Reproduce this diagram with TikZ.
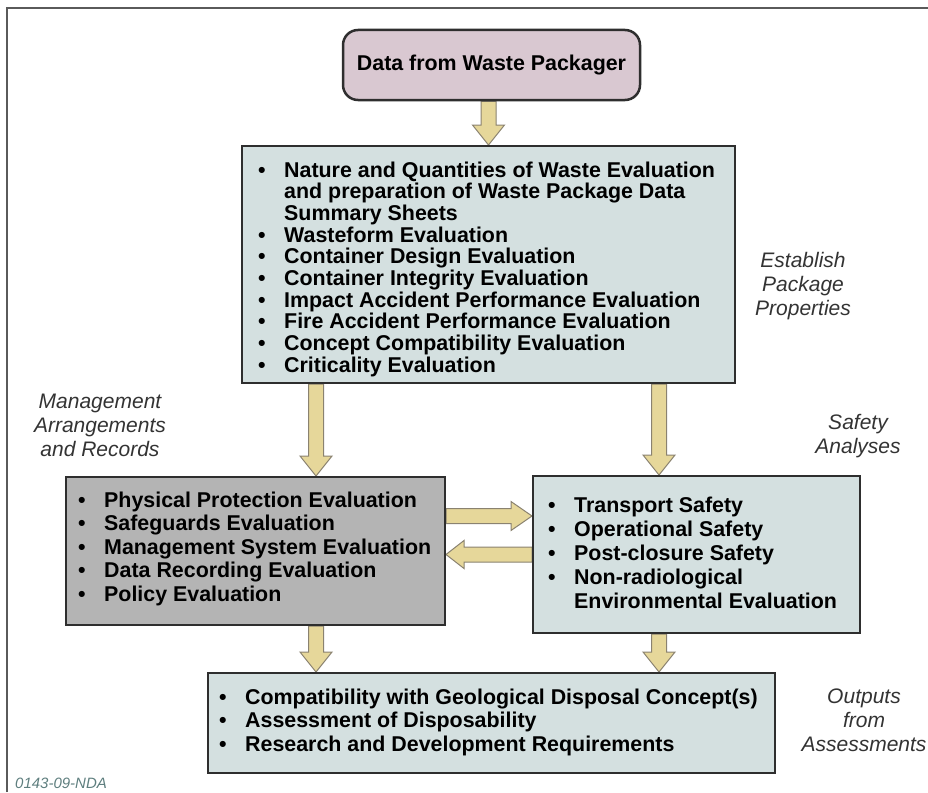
\documentclass[tikz,border=0pt]{standalone}
\usepackage{fontspec}
\setmainfont{Liberation Sans}
\usetikzlibrary{calc}

\definecolor{mauvefill}{HTML}{D9C8D1}
\definecolor{panefill}{HTML}{D4E0E0}
\definecolor{greyfill}{HTML}{B4B4B4}
\definecolor{arrowfill}{HTML}{E6D79A}
\definecolor{arrowedge}{HTML}{8A8270}
\definecolor{edge}{HTML}{2E2E2E}
\definecolor{framecol}{HTML}{5A5A5A}
\definecolor{labelgrey}{HTML}{333333}
\definecolor{tagcol}{HTML}{5E7E7E}

\pgfdeclarelayer{arrows}
\pgfsetlayers{arrows,main}

\tikzset{
  x=1pt, y=1pt,
  box/.style={draw=edge, line width=2pt, inner sep=0pt},
  listtext/.style={inner sep=0pt, anchor=base west,
    font=\bfseries\fontsize{21.4}{23.5}\selectfont},
  sidelabel/.style={font=\itshape\fontsize{21}{24}\selectfont,
    text=labelgrey, align=center, inner sep=0pt},
  blockarrow/.style={fill=arrowfill, draw=arrowedge, line width=1pt,
    line join=miter},
}

% bullet with a fixed hanging indent
\newcommand\bul{\makebox[26pt][l]{\textbullet}}
\newcommand\hang{\hspace*{26pt}}

% block arrow pointing down: #1 start (top of shaft), #2 tip
\newcommand\downblock[2]{%
  \begin{pgfonlayer}{arrows}
  \draw[blockarrow] ($(#1)+(-7.5,0)$) -- ($(#2)+(-7.5,20)$) -- ($(#2)+(-16,20)$)
    -- (#2) -- ($(#2)+(16,20)$) -- ($(#2)+(7.5,20)$) -- ($(#1)+(7.5,0)$) -- cycle;
  \end{pgfonlayer}}
% block arrow pointing right
\newcommand\rightblock[2]{%
  \begin{pgfonlayer}{arrows}
  \draw[blockarrow] ($(#1)+(0,7.5)$) -- ($(#2)+(-21,7.5)$) -- ($(#2)+(-21,14.5)$)
    -- (#2) -- ($(#2)+(-21,-14.5)$) -- ($(#2)+(-21,-7.5)$) -- ($(#1)+(0,-7.5)$) -- cycle;
  \end{pgfonlayer}}
% block arrow pointing left
\newcommand\leftblock[2]{%
  \begin{pgfonlayer}{arrows}
  \draw[blockarrow] ($(#1)+(0,7.5)$) -- ($(#2)+(18,7.5)$) -- ($(#2)+(18,14)$)
    -- (#2) -- ($(#2)+(18,-14)$) -- ($(#2)+(18,-7.5)$) -- ($(#1)+(0,-7.5)$) -- cycle;
  \end{pgfonlayer}}

\begin{document}
\begin{tikzpicture}
\useasboundingbox (0,0) rectangle (928,-792);

% outer frame (top and left edges)
\draw[framecol, line width=2pt] (7,-792) -- (7,-8) -- (928,-8);

% boxes
\node[box, fill=mauvefill, rounded corners=15pt, line width=2.5pt,
      minimum width=297pt, minimum height=70pt,
      font=\bfseries\fontsize{21.4}{24}\selectfont] (src) at (491.5,-65)
  {Data from Waste Packager};
\node[box, fill=panefill, minimum width=493pt, minimum height=237pt] (props) at (488.5,-264.5) {};
\node[box, fill=greyfill, minimum width=379pt, minimum height=148pt] (mgmt) at (255.5,-551) {};
\node[box, fill=panefill, minimum width=327pt, minimum height=157pt] (safety) at (696.5,-554.5) {};
\node[box, fill=panefill, minimum width=567pt, minimum height=100pt] (outputs) at (491.5,-723) {};

% box contents
\node[listtext, font=\bfseries\fontsize{21.4}{20.6}\selectfont] (propstext) at (258,-177) {\begin{tabular}[t]{@{}l@{}}
\bul Nature and Quantities of Waste Evaluation\\
\hang and preparation of Waste Package Data\\
\hang Summary Sheets\\
\bul Wasteform Evaluation\\
\bul Container Design Evaluation\\
\bul Container Integrity Evaluation\\
\bul Impact Accident Performance Evaluation\\
\bul Fire Accident Performance Evaluation\\
\bul Concept Compatibility Evaluation\\
\bul Criticality Evaluation
\end{tabular}};

\node[listtext] (mgmttext) at (78,-507) {\begin{tabular}[t]{@{}l@{}}
\bul Physical Protection Evaluation\\
\bul Safeguards Evaluation\\
\bul Management System Evaluation\\
\bul Data Recording Evaluation\\
\bul Policy Evaluation
\end{tabular}};

\node[listtext, font=\bfseries\fontsize{21.4}{24}\selectfont] (safetytext) at (548,-512) {\begin{tabular}[t]{@{}l@{}}
\bul Transport Safety\\
\bul Operational Safety\\
\bul Post-closure Safety\\
\bul Non-radiological\\
\hang Environmental Evaluation
\end{tabular}};

\node[listtext] (outputstext) at (219,-704) {\begin{tabular}[t]{@{}l@{}}
\bul Compatibility with Geological Disposal Concept(s)\\
\bul Assessment of Disposability\\
\bul Research and Development Requirements
\end{tabular}};

% side labels
\node[sidelabel] (lblprops) at (803,-286) {Establish\\Package\\Properties};
\node[sidelabel] (lblmgmt) at (100,-425) {Management\\Arrangements\\and Records};
\node[sidelabel] (lblsafety) at (858,-436) {Safety\\Analyses};
\node[sidelabel] (lblout) at (864,-720) {Outputs\\from\\Assessments};

\node[inner sep=0pt, anchor=base west, text=tagcol,
      font=\itshape\fontsize{15}{18}\selectfont] (tag) at (15,-788) {0143-09-NDA};

% arrow columns and rows
\coordinate (colL) at (316,0);
\coordinate (colR) at (659,0);
\coordinate (rowA) at (0,-516);
\coordinate (rowB) at (0,-554.5);

% connectors
\downblock{src.south -| props.north}{props.north}
\downblock{props.south -| colL}{mgmt.north -| colL}
\downblock{props.south -| colR}{safety.north -| colR}
\downblock{mgmt.south -| colL}{outputs.north -| colL}
\downblock{safety.south -| colR}{outputs.north -| colR}
\rightblock{mgmt.east |- rowA}{safety.west |- rowA}
\leftblock{safety.west |- rowB}{mgmt.east |- rowB}
\end{tikzpicture}
\end{document}
